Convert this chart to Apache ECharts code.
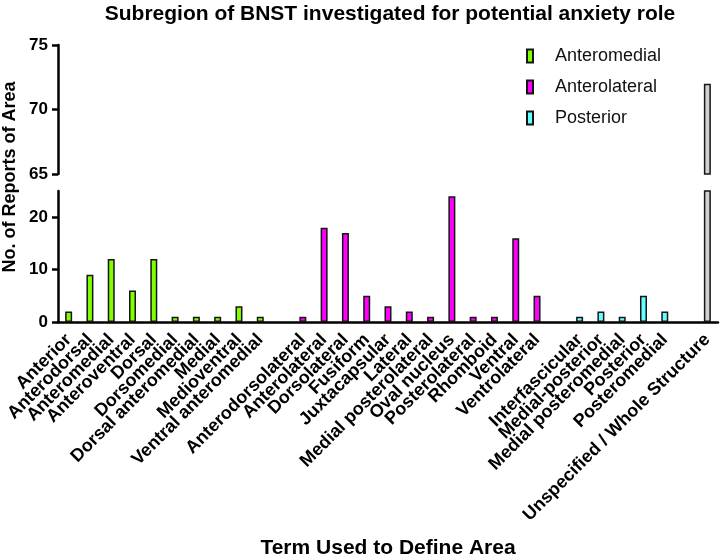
<!DOCTYPE html>
<html><head><meta charset="utf-8">
<script src="https://cdn.jsdelivr.net/npm/echarts@6/dist/echarts.min.js"></script>
<style>html,body{margin:0;padding:0;background:#fff}#c{width:720px;height:558px}</style>
</head><body><div id="c"></div>
<script>
const anteromedialTerms = ['Anterior','Anterodorsal','Anteromedial','Anteroventral','Dorsal','Dorsomedial','Dorsal anteromedial','Medial','Medioventral','Ventral anteromedial'];
const anteromedialCounts = [2,9,12,6,12,1,1,1,3,1];
const anterolateralTerms = ['Anterodorsolateral','Anterolateral','Dorsolateral','Fusiform','Juxtacapsular','Lateral','Medial posterolateral','Oval nucleus','Posterolateral','Rhomboid','Ventral','Ventrolateral'];
const anterolateralCounts = [1,18,17,5,3,2,1,24,1,1,16,5];
const posteriorTerms = ['Interfascicular','Medial-posterior','Medial posteromedial','Posterior','Posteromedial'];
const posteriorCounts = [1,2,1,5,2];
const wholeTerms = ['Unspecified / Whole Structure'];
const wholeCounts = [72];
const lowerTickValues = [0,10,20];
const upperTickValues = [65,70,75];

const groups = [
  {name:'Anteromedial', terms:anteromedialTerms, counts:anteromedialCounts, color:'#80FF00'},
  {name:'Anterolateral', terms:anterolateralTerms, counts:anterolateralCounts, color:'#FF00FF'},
  {name:'Posterior', terms:posteriorTerms, counts:posteriorCounts, color:'#66FFFF'},
  {name:'Unspecified', terms:wholeTerms, counts:wholeCounts, color:'#D0D0D0'}
];
const categories = [];
groups.forEach((g,gi)=>{
  if(gi>0){ categories.push(' '.repeat(gi)); }
  g.start = categories.length;
  g.terms.forEach(t=>categories.push(t));
});
function padded(g){
  const arr = categories.map(()=>'-');
  g.counts.forEach((v,i)=>{arr[g.start+i]=v;});
  return arr;
}
const FONT = '"Liberation Sans", Arial, sans-serif';
const axisLineStyle = {color:'#000', width:2.5};
const barBase = {type:'bar', barWidth:7, barGap:'-100%'};
const series = [];
groups.forEach((g,gi)=>{
  const isWhole = gi===3;
  series.push(Object.assign({}, barBase, {
    name: isWhole ? 'whole' : g.name, xAxisIndex:1, yAxisIndex:1, data: padded(g),
    itemStyle:{color:g.color, borderColor:'#151515', borderWidth:1.5}
  }));
  if(isWhole){
    series.push(Object.assign({}, barBase, {
      name:'whole', xAxisIndex:0, yAxisIndex:0, data: padded(g),
      itemStyle:{color:g.color, borderColor:'#151515', borderWidth:1.5}
    }));
  }
});
const chart = echarts.init(document.getElementById('c'), null, {renderer:'canvas'});
chart.setOption({
  animation:false,
  backgroundColor:'#fff',
  textStyle:{fontFamily:FONT},
  grid:[
    {left:58, right:2, top:45, height:129},
    {left:58, right:2, top:191, height:131}
  ],
  legend:{
    data:['Anteromedial','Anterolateral','Posterior'],
    orient:'vertical', left:521, top:41, itemWidth:6, itemHeight:13, itemGap:11,
    icon:'rect',
    textStyle:{fontFamily:FONT, fontSize:18, color:'#111', padding:[0,0,0,17], lineHeight:20}
  },
  xAxis:[
    {type:'category', gridIndex:0, data:categories, show:false},
    {type:'category', gridIndex:1, data:categories,
      axisLine:{lineStyle:axisLineStyle},
      axisTick:{alignWithLabel:true, length:7, lineStyle:{color:'#000', width:2.5},
        interval:function(i,v){ return String(v).trim()!==''; }},
      axisLabel:{interval:0, rotate:45, margin:15, fontSize:18, fontWeight:'bold', color:'#000', fontFamily:FONT}
    }
  ],
  yAxis:[
    {type:'value', gridIndex:0, min:upperTickValues[0], max:upperTickValues[upperTickValues.length-1], interval:upperTickValues[1]-upperTickValues[0],
      axisLine:{show:true, lineStyle:axisLineStyle}, splitLine:{show:false},
      axisTick:{show:true, length:6, lineStyle:{color:'#000', width:2.5}},
      axisLabel:{fontSize:17, fontWeight:'bold', color:'#000', margin:10, fontFamily:FONT}},
    {type:'value', gridIndex:1, min:lowerTickValues[0], max:25, interval:lowerTickValues[1]-lowerTickValues[0],
      axisLine:{show:true, lineStyle:axisLineStyle}, splitLine:{show:false},
      axisTick:{show:true, length:6, lineStyle:{color:'#000', width:2.5}},
      axisLabel:{fontSize:17, fontWeight:'bold', color:'#000', margin:10, fontFamily:FONT, showMaxLabel:false}}
  ],
  graphic:[
    {type:'text', x:390, y:14, style:{text:'Subregion of BNST investigated for potential anxiety role', font:'bold 21px '+FONT, fill:'#000', align:'center', verticalAlign:'middle'}},
    {type:'text', x:388, y:548, style:{text:'Term Used to Define Area', font:'bold 21px '+FONT, fill:'#000', align:'center', verticalAlign:'middle'}},
    {type:'text', x:10, y:177, rotation:Math.PI/2, style:{text:'No. of Reports of Area', font:'bold 18px '+FONT, fill:'#000', align:'center', verticalAlign:'middle'}}
  ],
  series:series
});
</script></body></html>
